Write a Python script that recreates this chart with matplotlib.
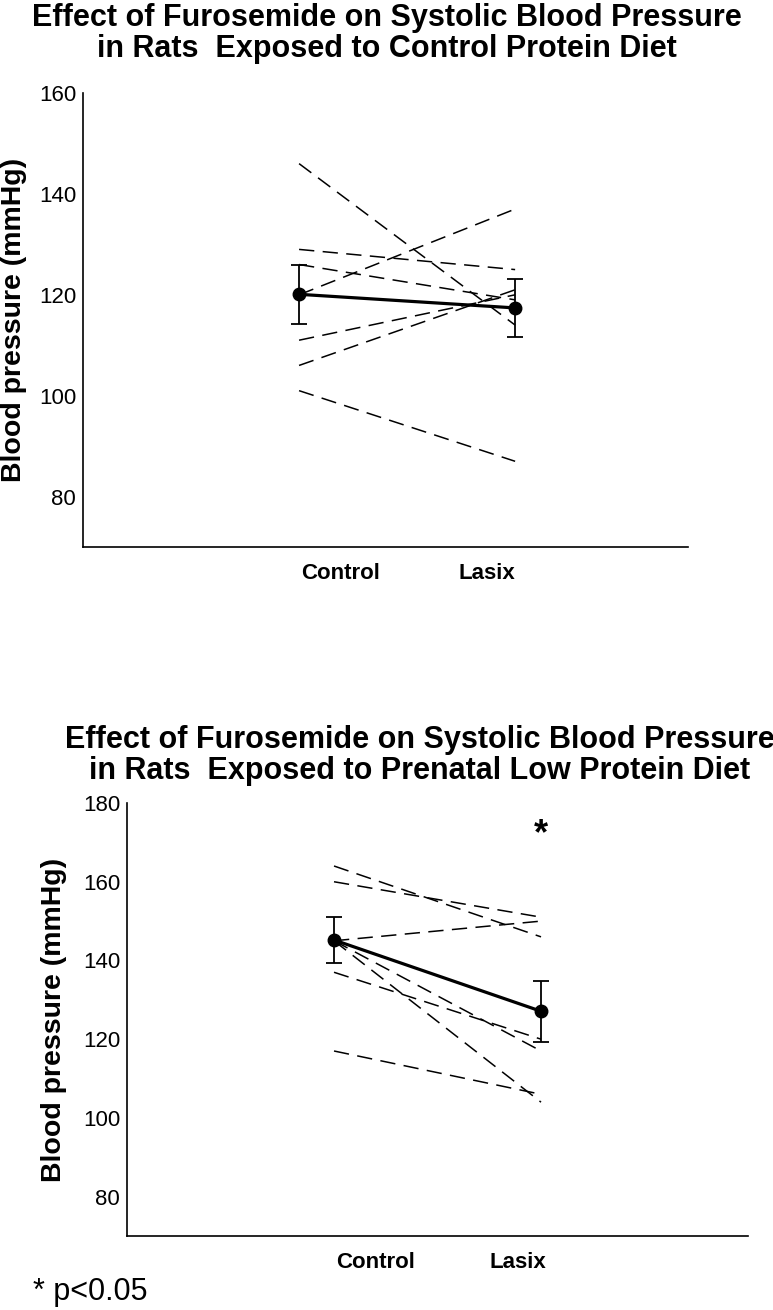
import matplotlib
matplotlib.use('Agg')
import matplotlib.pyplot as plt

plt.rcParams['font.family'] = ['Liberation Sans', 'DejaVu Sans']

groups = ["Control", "Lasix"]
group_x = [1, 2]

# Control protein diet: individual rats (Control, Lasix)
ctrl_diet_control = [146, 129, 126, 120, 111, 106, 101]
ctrl_diet_lasix = [114, 125, 119, 137, 120, 121, 87]
ctrl_diet_mean = [120.1, 117.4]
ctrl_diet_err = [5.8, 5.8]

# Prenatal low protein diet
low_diet_control = [164, 160, 145, 137, 145, 145, 117]
low_diet_lasix = [146, 151, 150, 120, 117, 104, 106]
low_diet_mean = [145.2, 127.1]
low_diet_err = [5.9, 7.8]

sig_y = 172
titles = ["Effect of Furosemide on Systolic Blood Pressure\nin Rats  Exposed to Control Protein Diet",
          "Effect of Furosemide on Systolic Blood Pressure\nin Rats  Exposed to Prenatal Low Protein Diet"]


def draw_panel(ax, ctrl, lasix, mean, err, ylim, yticks, xmax, label_dx):
    for c, l in zip(ctrl, lasix):
        ax.plot(group_x, [c, l], color='black', linewidth=1.1,
                linestyle=(0, (10, 5.5)))
    ax.errorbar(group_x, mean, yerr=err, color='black', linewidth=2.3,
                marker='o', markersize=9, capsize=6, elinewidth=1.3,
                capthick=1.3, zorder=5)
    ax.set_xlim(0, xmax)
    ax.set_ylim(*ylim)
    ax.set_yticks(yticks)
    ax.set_xticks([])
    ax.tick_params(axis='y', length=0, labelsize=16, pad=5)
    for s in ['top', 'right']:
        ax.spines[s].set_visible(False)
    for s in ['left', 'bottom']:
        ax.spines[s].set_linewidth(1.2)
    ax.set_ylabel("Blood pressure (mmHg)", fontsize=20.5, fontweight='bold')
    # category labels sit a little right of the points, as in the original
    for gx, name, dx in zip(group_x, groups, label_dx):
        ax.annotate(name, xy=(gx, 0), xycoords=ax.get_xaxis_transform(),
                    xytext=(dx, -19), textcoords='offset points',
                    ha='center', va='center', fontsize=16, fontweight='bold')


fig = plt.figure(figsize=(7.73, 13.10), dpi=100)

ax1 = fig.add_axes([0.1074, 0.5824, 0.7826, 0.3466])
draw_panel(ax1, ctrl_diet_control, ctrl_diet_lasix, ctrl_diet_mean,
           ctrl_diet_err, (70, 160), [80, 100, 120, 140, 160], 2.8, [30, -20])
ax1.yaxis.set_label_coords(-0.092, 0.5)

ax2 = fig.add_axes([0.1643, 0.0565, 0.8034, 0.3305])
draw_panel(ax2, low_diet_control, low_diet_lasix, low_diet_mean,
           low_diet_err, (70, 180), [80, 100, 120, 140, 160, 180], 3.0, [30, -17])
ax2.yaxis.set_label_coords(-0.097, 0.5)
ax2.text(group_x[1], sig_y, "*", ha='center', va='center', fontsize=26,
         fontweight='bold')

fig.text(0.501, 0.9745, titles[0], ha='center', va='center', fontsize=22,
         fontweight='bold', linespacing=1.05)
fig.text(0.543, 0.4235, titles[1], ha='center', va='center', fontsize=22,
         fontweight='bold', linespacing=1.05)
fig.text(0.043, 0.014, "* p<0.05", ha='left', va='center', fontsize=22)

fig.savefig("out.png", dpi=100)
plt.close(fig)
